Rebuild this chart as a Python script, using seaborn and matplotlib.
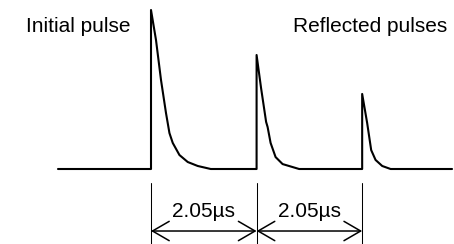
import matplotlib
matplotlib.use("Agg")
import matplotlib.pyplot as plt
import seaborn as sns
import pandas as pd

# pulse start times (µs) and the decay of each pulse:
# offsets after the rise (µs) and amplitude (relative to the initial pulse)
pulse_times = [0.0, 2.05, 4.10]
decay_dt = [
    [0.0, 0.097, 0.194, 0.291, 0.358, 0.422, 0.552, 0.713, 0.907, 1.160],
    [0.0, 0.087, 0.185, 0.214, 0.272, 0.369, 0.505, 0.826],
    [0.0, 0.097, 0.175, 0.260, 0.389, 0.552],
]
decay_amp = [
    [1.0, 0.811, 0.560, 0.352, 0.226, 0.164, 0.088, 0.044, 0.019, 0.0],
    [0.717, 0.509, 0.296, 0.264, 0.164, 0.075, 0.031, 0.0],
    [0.472, 0.289, 0.119, 0.057, 0.019, 0.0],
]
baseline_start = -1.806
baseline_end = 5.845
interval_label = "2.05µs"
left_label = "Initial pulse"
right_label = "Reflected pulses"

# build the trace: baseline, vertical rise, decay, baseline ...
trace_t = [baseline_start]
trace_a = [0.0]
for t0, dts, amps in zip(pulse_times, decay_dt, decay_amp):
    trace_t += [t0] + [t0 + d for d in dts]
    trace_a += [0.0] + amps
trace_t.append(baseline_end)
trace_a.append(0.0)
df = pd.DataFrame({"t": trace_t, "amp": trace_a})

sns.set_theme(style="white")
plt.rcParams["font.family"] = ["Liberation Sans", "DejaVu Sans"]

fig = plt.figure(figsize=(4.54, 2.44), dpi=100)
ax = fig.add_axes([0, 0, 1, 1])

sns.lineplot(data=df, x="t", y="amp", sort=False, estimator=None,
             color="black", linewidth=1.5, ax=ax)

# dimension lines under the pulses
dim_top = -0.088
arrow_y = -0.39
text_y = -0.299
for t0 in pulse_times:
    ax.plot([t0, t0], [dim_top, -0.5], color="black", linewidth=0.75)
for t0, t1 in zip(pulse_times[:-1], pulse_times[1:]):
    ax.annotate("", xy=(t1, arrow_y), xytext=(t0, arrow_y),
                arrowprops=dict(arrowstyle="<->,head_length=1.0,head_width=0.58",
                                color="black", linewidth=1.1,
                                shrinkA=0, shrinkB=0))
    ax.text((t0 + t1) / 2, text_y, interval_label, ha="center", va="baseline",
            fontsize=15, color="black")

ax.text(-2.427, 0.862, left_label, ha="left", va="baseline",
        fontsize=15, color="black")
ax.text(5.748, 0.862, right_label, ha="right", va="baseline",
        fontsize=15, color="black")

ax.set_xlim(-2.932, 5.883)
ax.set_ylim(-0.4717, 1.0629)
ax.axis("off")

fig.savefig("out.png", dpi=100)
plt.close(fig)
